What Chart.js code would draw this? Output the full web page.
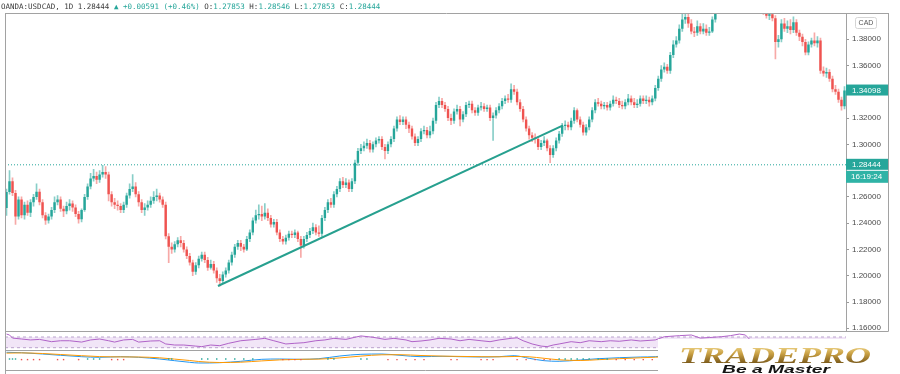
<!DOCTYPE html>
<html><head><meta charset="utf-8">
<script src="https://cdn.jsdelivr.net/npm/chart.js@4.4.0/dist/chart.umd.min.js"></script>
<style>html,body{margin:0;padding:0;background:#fff;}canvas{display:block}</style>
</head><body>
<canvas id="c" width="900" height="374"></canvas>
<script>
// ---- OHLC (daily USDCAD candles) ----
const opens = [
1.2516,1.2638,1.2720,1.2630,1.2450,1.2580,1.2460,1.2540,1.2480,1.2560,
1.2600,1.2640,1.2560,1.2460,1.2420,1.2450,1.2500,1.2560,1.2580,1.2510,
1.2490,1.2530,1.2550,1.2520,1.2470,1.2430,1.2500,1.2600,1.2680,1.2740,
1.2760,1.2730,1.2770,1.2790,1.2770,1.2620,1.2560,1.2540,1.2530,1.2500,
1.2540,1.2610,1.2660,1.2680,1.2620,1.2560,1.2500,1.2520,1.2540,1.2570,
1.2600,1.2610,1.2580,1.2540,1.2300,1.2220,1.2200,1.2240,1.2270,1.2250,
1.2200,1.2150,1.2100,1.2030,1.2080,1.2130,1.2160,1.2120,1.2060,1.2090,
1.2040,1.1980,1.1960,1.2010,1.2040,1.2100,1.2160,1.2220,1.2250,1.2220,
1.2200,1.2280,1.2330,1.2420,1.2460,1.2470,1.2450,1.2480,1.2440,1.2390,
1.2410,1.2330,1.2280,1.2260,1.2290,1.2320,1.2310,1.2330,1.2280,1.2230,
1.2280,1.2310,1.2340,1.2370,1.2330,1.2320,1.2440,1.2500,1.2560,1.2540,
1.2620,1.2660,1.2720,1.2690,1.2710,1.2660,1.2720,1.2860,1.2950,1.2970,
1.2990,1.3010,1.2960,1.3000,1.3030,1.3040,1.2980,1.2950,1.3000,1.3040,
1.3120,1.3190,1.3170,1.3190,1.3150,1.3120,1.3060,1.3010,1.3040,1.3100,
1.3110,1.3070,1.3100,1.3180,1.3300,1.3330,1.3300,1.3270,1.3200,1.3180,
1.3250,1.3270,1.3190,1.3230,1.3300,1.3310,1.3260,1.3240,1.3280,1.3290,
1.3270,1.3280,1.3200,1.3220,1.3260,1.3290,1.3330,1.3350,1.3340,1.3420,
1.3400,1.3320,1.3270,1.3190,1.3120,1.3070,1.3050,1.3040,1.2980,1.3010,
1.3030,1.2970,1.2920,1.2970,1.3030,1.3080,1.3140,1.3150,1.3130,1.3180,
1.3260,1.3190,1.3150,1.3090,1.3130,1.3190,1.3260,1.3320,1.3310,1.3290,
1.3300,1.3280,1.3310,1.3340,1.3330,1.3300,1.3290,1.3320,1.3350,1.3320,
1.3300,1.3310,1.3350,1.3330,1.3340,1.3320,1.3350,1.3430,1.3500,1.3570,
1.3590,1.3560,1.3680,1.3760,1.3790,1.3880,1.3950,1.3970,1.3920,1.3860,
1.3850,1.3900,1.3860,1.3880,1.3850,1.3860,1.3950,1.4030,1.4080,1.4130,
1.4190,1.4160,1.4230,1.4310,1.4380,1.4460,1.4520,1.4450,1.4400,1.4330,
1.4260,1.4180,1.4120,1.4010,1.3980,1.3990,1.3960,1.3780,1.3800,1.3920,
1.3880,1.3900,1.3870,1.3930,1.3850,1.3820,1.3780,1.3700,1.3760,1.3790,
1.3770,1.3790,1.3560,1.3540,1.3550,1.3500,1.3420,1.3400,1.3340,1.3290];
const highs = [
1.2660,1.2800,1.2745,1.2650,1.2600,1.2600,1.2560,1.2570,1.2580,1.2620,
1.2700,1.2660,1.2580,1.2480,1.2470,1.2520,1.2600,1.2610,1.2600,1.2530,
1.2560,1.2580,1.2570,1.2540,1.2490,1.2510,1.2620,1.2700,1.2780,1.2810,
1.2790,1.2800,1.2840,1.2830,1.2790,1.2640,1.2590,1.2570,1.2550,1.2560,
1.2630,1.2700,1.2770,1.2710,1.2640,1.2580,1.2550,1.2570,1.2600,1.2640,
1.2660,1.2630,1.2600,1.2560,1.2320,1.2250,1.2260,1.2290,1.2300,1.2270,
1.2220,1.2170,1.2120,1.2100,1.2150,1.2180,1.2180,1.2140,1.2120,1.2110,
1.2060,1.2010,1.2030,1.2060,1.2120,1.2180,1.2240,1.2270,1.2270,1.2240,
1.2300,1.2350,1.2440,1.2500,1.2540,1.2530,1.2550,1.2510,1.2460,1.2430,
1.2430,1.2350,1.2300,1.2310,1.2340,1.2340,1.2350,1.2340,1.2300,1.2300,
1.2330,1.2360,1.2400,1.2390,1.2380,1.2460,1.2520,1.2580,1.2590,1.2640,
1.2680,1.2740,1.2750,1.2740,1.2730,1.2740,1.2880,1.2970,1.3000,1.3020,
1.3040,1.3030,1.3020,1.3050,1.3060,1.3060,1.3000,1.3020,1.3060,1.3140,
1.3210,1.3220,1.3210,1.3210,1.3170,1.3140,1.3080,1.3060,1.3120,1.3140,
1.3130,1.3140,1.3200,1.3320,1.3360,1.3350,1.3320,1.3290,1.3230,1.3270,
1.3300,1.3290,1.3250,1.3320,1.3330,1.3330,1.3280,1.3300,1.3320,1.3310,
1.3300,1.3300,1.3240,1.3280,1.3310,1.3350,1.3370,1.3380,1.3460,1.3450,
1.3420,1.3340,1.3290,1.3210,1.3140,1.3090,1.3080,1.3060,1.3030,1.3060,
1.3040,1.2990,1.2990,1.3050,1.3100,1.3160,1.3180,1.3170,1.3200,1.3280,
1.3270,1.3210,1.3170,1.3150,1.3210,1.3280,1.3340,1.3350,1.3330,1.3320,
1.3320,1.3330,1.3370,1.3360,1.3350,1.3330,1.3340,1.3380,1.3370,1.3350,
1.3340,1.3370,1.3370,1.3370,1.3360,1.3370,1.3450,1.3520,1.3600,1.3620,
1.3610,1.3700,1.3790,1.3820,1.3910,1.4010,1.4030,1.4010,1.3950,1.3890,
1.3940,1.3920,1.3920,1.3910,1.3890,1.3970,1.4060,1.4100,1.4150,1.4210,
1.4220,1.4250,1.4330,1.4400,1.4480,1.4560,1.4540,1.4480,1.4420,1.4350,
1.4280,1.4200,1.4150,1.4050,1.4030,1.4020,1.3980,1.3830,1.3950,1.3960,
1.3940,1.3950,1.3970,1.3950,1.3870,1.3840,1.3800,1.3780,1.3810,1.3850,
1.3820,1.3810,1.3590,1.3580,1.3570,1.3520,1.3450,1.3420,1.3360,1.3440];
const lows = [
1.2460,1.2620,1.2610,1.2390,1.2430,1.2440,1.2430,1.2460,1.2450,1.2530,
1.2580,1.2540,1.2440,1.2390,1.2400,1.2430,1.2480,1.2540,1.2490,1.2450,
1.2470,1.2500,1.2490,1.2450,1.2400,1.2410,1.2490,1.2580,1.2660,1.2720,
1.2700,1.2710,1.2750,1.2740,1.2570,1.2530,1.2510,1.2500,1.2480,1.2480,
1.2520,1.2590,1.2640,1.2600,1.2530,1.2480,1.2460,1.2500,1.2520,1.2550,
1.2570,1.2560,1.2520,1.2280,1.2100,1.2170,1.2180,1.2220,1.2220,1.2180,
1.2130,1.2080,1.2000,1.2010,1.2060,1.2110,1.2100,1.2040,1.2050,1.2020,
1.1950,1.1920,1.1940,1.1990,1.2020,1.2080,1.2140,1.2200,1.2190,1.2180,
1.2190,1.2260,1.2310,1.2400,1.2430,1.2420,1.2430,1.2420,1.2370,1.2370,
1.2310,1.2260,1.2240,1.2240,1.2270,1.2290,1.2290,1.2260,1.2140,1.2210,
1.2260,1.2290,1.2320,1.2310,1.2300,1.2300,1.2420,1.2480,1.2520,1.2520,
1.2600,1.2640,1.2670,1.2670,1.2640,1.2640,1.2700,1.2840,1.2930,1.2950,
1.2970,1.2940,1.2940,1.2980,1.3010,1.2960,1.2890,1.2930,1.2980,1.3020,
1.3100,1.3150,1.3150,1.3120,1.3090,1.3040,1.2990,1.2990,1.3020,1.3080,
1.3050,1.3050,1.3080,1.3160,1.3280,1.3280,1.3250,1.3180,1.3150,1.3160,
1.3230,1.3140,1.3170,1.3210,1.3280,1.3240,1.3220,1.3220,1.3260,1.3250,
1.3250,1.3180,1.3030,1.3200,1.3240,1.3270,1.3310,1.3320,1.3320,1.3380,
1.3300,1.3250,1.3170,1.3100,1.3040,1.3020,1.3010,1.2960,1.2960,1.2990,
1.2950,1.2860,1.2900,1.2950,1.3010,1.3060,1.3110,1.3110,1.3110,1.3160,
1.3170,1.3130,1.3070,1.3070,1.3110,1.3170,1.3240,1.3290,1.3270,1.3270,
1.3260,1.3260,1.3290,1.3310,1.3280,1.3270,1.3270,1.3300,1.3300,1.3280,
1.3280,1.3290,1.3310,1.3310,1.3290,1.3300,1.3330,1.3410,1.3480,1.3550,
1.3540,1.3540,1.3660,1.3740,1.3770,1.3860,1.3920,1.3890,1.3840,1.3820,
1.3830,1.3840,1.3840,1.3830,1.3830,1.3850,1.3930,1.4010,1.4060,1.4110,
1.4130,1.4140,1.4210,1.4290,1.4360,1.4440,1.4420,1.4370,1.4300,1.4230,
1.4160,1.4090,1.3990,1.3960,1.3950,1.3940,1.3650,1.3740,1.3780,1.3860,
1.3850,1.3840,1.3850,1.3830,1.3790,1.3750,1.3680,1.3680,1.3740,1.3750,
1.3740,1.3540,1.3520,1.3510,1.3480,1.3400,1.3380,1.3320,1.3260,1.3270];
const closes = [
1.2638,1.2720,1.2630,1.2450,1.2580,1.2460,1.2540,1.2480,1.2560,1.2600,
1.2640,1.2560,1.2460,1.2420,1.2450,1.2500,1.2560,1.2580,1.2510,1.2490,
1.2530,1.2550,1.2520,1.2470,1.2430,1.2500,1.2600,1.2680,1.2740,1.2760,
1.2730,1.2770,1.2790,1.2770,1.2620,1.2560,1.2540,1.2530,1.2500,1.2540,
1.2610,1.2660,1.2680,1.2620,1.2560,1.2500,1.2520,1.2540,1.2570,1.2600,
1.2610,1.2580,1.2540,1.2300,1.2220,1.2200,1.2240,1.2270,1.2250,1.2200,
1.2150,1.2100,1.2030,1.2080,1.2130,1.2160,1.2120,1.2060,1.2090,1.2040,
1.1980,1.1960,1.2010,1.2040,1.2100,1.2160,1.2220,1.2250,1.2220,1.2200,
1.2280,1.2330,1.2420,1.2460,1.2470,1.2450,1.2480,1.2440,1.2390,1.2410,
1.2330,1.2280,1.2260,1.2290,1.2320,1.2310,1.2330,1.2280,1.2230,1.2280,
1.2310,1.2340,1.2370,1.2330,1.2320,1.2440,1.2500,1.2560,1.2540,1.2620,
1.2660,1.2720,1.2690,1.2710,1.2660,1.2720,1.2860,1.2950,1.2970,1.2990,
1.3010,1.2960,1.3000,1.3030,1.3040,1.2980,1.2950,1.3000,1.3040,1.3120,
1.3190,1.3170,1.3190,1.3150,1.3120,1.3060,1.3010,1.3040,1.3100,1.3110,
1.3070,1.3100,1.3180,1.3300,1.3330,1.3300,1.3270,1.3200,1.3180,1.3250,
1.3270,1.3190,1.3230,1.3300,1.3310,1.3260,1.3240,1.3280,1.3290,1.3270,
1.3280,1.3200,1.3220,1.3260,1.3290,1.3330,1.3350,1.3340,1.3420,1.3400,
1.3320,1.3270,1.3190,1.3120,1.3070,1.3050,1.3040,1.2980,1.3010,1.3030,
1.2970,1.2920,1.2970,1.3030,1.3080,1.3140,1.3150,1.3130,1.3180,1.3260,
1.3190,1.3150,1.3090,1.3130,1.3190,1.3260,1.3320,1.3310,1.3290,1.3300,
1.3280,1.3310,1.3340,1.3330,1.3300,1.3290,1.3320,1.3350,1.3320,1.3300,
1.3310,1.3350,1.3330,1.3340,1.3320,1.3350,1.3430,1.3500,1.3570,1.3590,
1.3560,1.3680,1.3760,1.3790,1.3880,1.3950,1.3970,1.3920,1.3860,1.3850,
1.3900,1.3860,1.3880,1.3850,1.3860,1.3950,1.4030,1.4080,1.4130,1.4190,
1.4160,1.4230,1.4310,1.4380,1.4460,1.4520,1.4450,1.4400,1.4330,1.4260,
1.4180,1.4120,1.4010,1.3980,1.3990,1.3960,1.3780,1.3800,1.3920,1.3880,
1.3900,1.3870,1.3930,1.3850,1.3820,1.3780,1.3700,1.3760,1.3790,1.3770,
1.3790,1.3560,1.3540,1.3550,1.3500,1.3420,1.3400,1.3340,1.3290,1.3410];

// ---- axis ticks & labels ----
const priceTicks = [1.16,1.18,1.20,1.22,1.24,1.26,1.30,1.32,1.36,1.38];
const priceTags = [1.34098, 1.28444];
const tagTexts = ['1.34098', '1.28444', '16:19:24'];
const currencyLabel = 'CAD';
const headerParts = [
  ['OANDA:USDCAD, 1D 1.28444 ', 'dark'], ['\u25B2 +0.00591 (+0.46%) ', 'teal'],
  ['O:', 'dark'], ['1.27853 ', 'teal'], ['H:', 'dark'], ['1.28546 ', 'teal'],
  ['L:', 'dark'], ['1.27853 ', 'teal'], ['C:', 'dark'], ['1.28444', 'teal']];
const logoTitle = 'TRADEPRO';
const logoTagline = 'Be a Master';

// ---- drawn trend line (candle index, price) ----
const trendX = [70.4, 185.3];
const trendY = [1.1922, 1.3144];

// ---- RSI (candle index, value) ----
const rsiBands = [70, 30];
const rsiIdx = [0,1,2,5,8,11,15,18,21,25,28,31,34,36,39,42,44,48,51,53,56,59,63,65,68,71,74,78,83,86,89,93,96,99,103,106,109,113,116,118,122,126,129,133,135,138,141,144,148,151,154,158,161,164,168,170,172,175,178,180,182,184,188,191,194,198,201,204,208,211,216,219,224,228,231,234,238,241,244,246,248,250];
const rsiVals = [81,77.5,66,62.5,59,61,52.5,56,56,51,59,62.5,56,51,59,61,51,55,56,44,40,40,36,34,40,37.5,46.5,56,61,65,56,44,46.5,48.7,56,59,65,61,69,74,69,61,65,59,52.5,55,59,65,62.5,56,61,56,52.5,59,65,67,56,44,36,34,40,44,52.5,48.7,56,52.5,56,54,59,55,59,71,75,77.5,66,68,71,75,81,77.5,55,45];

// ---- MACD (candle index, macd, signal) ----
const macdIdx = [0,5,12,18,25,31,38,44,51,56,61,64,71,78,85,91,98,104,111,118,125,131,138,145,151,158,164,169,174,179,184,191,197,204,211,216,221];
const macdVals = [0.0070,0.0066,0.0053,0.0040,0.0026,0.0020,0.0026,0.0020,0.0003,-0.0014,-0.0030,-0.0037,-0.0034,-0.0020,0.0000,0.0003,0.0000,0.0006,0.0033,0.0050,0.0053,0.0040,0.0026,0.0030,0.0026,0.0023,0.0026,0.0036,0.0010,-0.0014,-0.0020,-0.0007,0.0006,0.0016,0.0023,0.0026,0.0045];
const signalVals = [0.0062,0.0064,0.0058,0.0048,0.0036,0.0027,0.0024,0.0023,0.0015,0.0002,-0.0012,-0.0022,-0.0032,-0.0029,-0.0016,-0.0006,0.0000,0.0002,0.0014,0.0032,0.0045,0.0046,0.0038,0.0032,0.0029,0.0026,0.0025,0.0028,0.0025,0.0010,-0.0005,-0.0012,-0.0004,0.0006,0.0015,0.0021,0.0028];
const histIdx = [1,2,3,5,7,9,11,17,19,24,27,29,31,35,37,39,54,55,65,67,70,73,76,79,82,92,94,96,98,107,109,118,120,127,130,133,136,139,148,150,158,160,162,170,173,176,179,181,184,186,188,190,192,194,197,200,203,206,209,212,215];
const histVals = [
 0.0003,0.0003,0.0003,
 -0.0003,-0.0003,-0.0003,-0.0003,-0.0003,-0.0003,-0.0003,
 0.0003,0.0003,0.0003,
 -0.0003,-0.0003,-0.0003,
 0.0003,0.0003,0.0003,0.0003,0.0003,0.0003,0.0003,0.0003,0.0003,
 -0.0003,-0.0003,-0.0003,-0.0003,
 0.0003,0.0003,0.0003,0.0003,
 -0.0003,-0.0003,-0.0003,-0.0003,-0.0003,-0.0003,-0.0003,-0.0003,-0.0003,-0.0003,-0.0003,-0.0003,-0.0003,-0.0003,-0.0003,
 0.0003,0.0003,0.0003,0.0003,0.0003,0.0003,0.0003,0.0003,
 -0.0003,-0.0003,-0.0003,-0.0003,-0.0003];

const UP = '#26a69a', DOWN = '#ef5350';
const N = closes.length;
const categories = closes.map((_, i) => String(i));
const isUp = i => i !== undefined && closes[i] >= opens[i];
const pts = (xs, ys) => xs.map((x, i) => ({x, y: ys[i]}));
const span = v => [{x: -0.5, y: v}, {x: N - 0.5, y: v}];
const fixW = s => { s.width = 42; s.paddingTop = 0; s.paddingBottom = 0; };

Chart.defaults.font.family = '"Liberation Sans", Arial, sans-serif';

const decor = {
  id: 'decor',
  afterDraw(chart) {
    const c = chart.ctx, a = chart.chartArea;
    const sy = chart.scales.y, sr = chart.scales.yr, sm = chart.scales.ym;
    const axR = sy.right;
    c.save();
    // frame lines
    c.strokeStyle = '#a2a2a2'; c.lineWidth = 1;
    const hl = (x1, x2, y) => { c.beginPath(); c.moveTo(x1, Math.round(y) + 0.5); c.lineTo(x2, Math.round(y) + 0.5); c.stroke(); };
    const vl = (x, y1, y2) => { c.beginPath(); c.moveTo(Math.round(x) + 0.5, y1); c.lineTo(Math.round(x) + 0.5, y2); c.stroke(); };
    hl(a.left, axR, a.top);
    vl(a.left, a.top, 374);
    vl(a.right, a.top, sy.bottom);
    vl(axR, a.top, sy.bottom);
    hl(a.left, axR, sy.bottom - 0.5);
    hl(a.left, a.right, sr.bottom);
    hl(a.left, a.right, sm.bottom);

    // currency box
    c.strokeStyle = '#d4d4d4';
    c.beginPath(); c.roundRect(855.5, 17.5, 21, 11, 2); c.stroke();
    c.fillStyle = '#555'; c.font = '7px "Liberation Sans"'; c.textAlign = 'center'; c.textBaseline = 'middle';
    c.fillText(currencyLabel, 866, 23.3);

    // price tags
    c.textAlign = 'left';
    c.font = '8px "Liberation Sans"';
    const y1 = sy.getPixelForValue(priceTags[0]);
    c.fillStyle = UP; c.fillRect(a.right, y1 - 6, axR - a.right, 11);
    c.fillStyle = '#fff'; c.fillText(tagTexts[0], a.right + 6, y1);
    const y2 = sy.getPixelForValue(priceTags[1]);
    c.fillStyle = UP; c.fillRect(a.right, y2 - 6, axR - a.right, 11);
    c.fillStyle = '#2fb3a6'; c.fillRect(a.right, y2 + 6, axR - a.right, 12);
    c.fillStyle = '#fff'; c.fillText(tagTexts[1], a.right + 6, y2 - 0.5); c.fillText(tagTexts[2], a.right + 5, y2 + 12);

    // header legend
    c.font = '7.5px "DejaVu Sans Mono"'; c.textBaseline = 'alphabetic';
    let x = 1;
    for (const [t, k] of headerParts) {
      c.fillStyle = k === 'teal' ? UP : '#3c3c3c';
      c.fillText(t, x, 8.5);
      x += c.measureText(t).width;
    }

    // logo
    c.fillStyle = '#fff'; c.fillRect(658, 339, 242, 35);
    c.font = 'italic bold 24px "Liberation Serif"';
    const w = c.measureText(logoTitle).width;
    c.save(); c.translate(679, 363); c.scale(192 / w, 1);
    const g = c.createLinearGradient(0, -17, 0, 0);
    g.addColorStop(0, '#f0d68a'); g.addColorStop(0.45, '#c9a043'); g.addColorStop(1, '#7d5c1c');
    c.fillStyle = g; c.fillText(logoTitle, 0, 0); c.restore();
    c.font = 'italic bold 10px "Liberation Sans"';
    const w2 = c.measureText(logoTagline).width;
    c.save(); c.translate(722, 372.5); c.scale(108 / w2, 1);
    c.fillStyle = '#151515'; c.fillText(logoTagline, 0, 0); c.restore();
    c.restore();
  }
};

new Chart(document.getElementById('c'), {
  data: {
    labels: categories,
    datasets: [
      { type: 'bar', label: 'wicks', data: lows.map((l, i) => [l, highs[i]]), xAxisID: 'x', yAxisID: 'y',
        backgroundColor: ctx => isUp(ctx.dataIndex) ? 'rgba(38,166,154,0.55)' : 'rgba(239,83,80,0.5)',
        barThickness: 1, grouped: false, borderWidth: 0, clip: 0, order: 10 },
      { type: 'bar', label: 'bodies', data: opens.map((o, i) => [o, closes[i]]), xAxisID: 'x', yAxisID: 'y',
        backgroundColor: ctx => isUp(ctx.dataIndex) ? UP : DOWN,
        barPercentage: 0.8, categoryPercentage: 1, grouped: false, minBarLength: 1, borderWidth: 0, clip: 0, order: 9 },
      { type: 'line', label: 'last', data: span(priceTags[1]), xAxisID: 'xl', yAxisID: 'y',
        borderColor: UP, borderWidth: 1, borderDash: [1, 2], pointRadius: 0, order: 8 },
      { type: 'line', label: 'trend', data: pts(trendX, trendY), xAxisID: 'xl', yAxisID: 'y',
        borderColor: '#27a08f', borderWidth: 2, pointRadius: 0, order: 1 },
      { type: 'line', label: 'rsi70', data: span(rsiBands[0]), xAxisID: 'xl', yAxisID: 'yr',
        borderColor: 'rgba(160,130,185,0.7)', borderWidth: 1, borderDash: [3, 3], pointRadius: 0,
        fill: {value: rsiBands[1]}, backgroundColor: '#f1e5f7', order: 7 },
      { type: 'line', label: 'rsi30', data: span(rsiBands[1]), xAxisID: 'xl', yAxisID: 'yr',
        borderColor: 'rgba(160,130,185,0.7)', borderWidth: 1, borderDash: [3, 3], pointRadius: 0, order: 6 },
      { type: 'line', label: 'RSI', data: pts(rsiIdx, rsiVals), xAxisID: 'xl', yAxisID: 'yr',
        borderColor: '#b063c8', borderWidth: 1, pointRadius: 0, order: 5 },
      { type: 'line', label: 'MACD', data: pts(macdIdx, macdVals), xAxisID: 'xl', yAxisID: 'ym',
        borderColor: '#2196f3', borderWidth: 1, pointRadius: 0, cubicInterpolationMode: 'monotone', order: 4 },
      { type: 'line', label: 'Signal', data: pts(macdIdx, signalVals), xAxisID: 'xl', yAxisID: 'ym',
        borderColor: '#ff9800', borderWidth: 1, pointRadius: 0, cubicInterpolationMode: 'monotone', order: 3 },
      { type: 'line', label: 'Hist', data: pts(histIdx, histVals), xAxisID: 'xl', yAxisID: 'ym', showLine: false,
        pointStyle: 'rect', pointRadius: 1, pointBorderWidth: 0,
        pointBackgroundColor: ctx => (ctx.raw && ctx.raw.y >= 0) ? UP : DOWN, order: 2 }
    ]
  },
  options: {
    responsive: false, animation: false, devicePixelRatio: 1,
    layout: { padding: { left: 5, right: 12, top: 13, bottom: 4 } },
    plugins: { legend: { display: false }, tooltip: { enabled: false } },
    scales: {
      x: { type: 'category', offset: true, display: false },
      xl: { type: 'linear', min: -0.5, max: N - 0.5, display: false },
      y: { type: 'linear', position: 'right', stack: 'panes', stackWeight: 318.7, min: 1.1574, max: 1.40,
        afterFit: fixW,
        afterBuildTicks: s => { s.ticks = priceTicks.map(v => ({ value: v })); },
        ticks: { font: { size: 8 }, color: '#4a4a4a', padding: 3, callback: v => Number(v).toFixed(5) },
        grid: { drawOnChartArea: false, drawTicks: true, tickLength: 3, color: '#9a9a9a' },
        border: { display: false } },
      yr: { type: 'linear', position: 'right', stack: 'panes', stackWeight: 18.3, min: 21.4, max: 89.8,
        afterFit: fixW, ticks: { display: false }, grid: { display: false }, border: { display: false } },
      ym: { type: 'linear', position: 'right', stack: 'panes', stackWeight: 20, min: -0.0107, max: 0.0093,
        afterFit: fixW, ticks: { display: false }, grid: { display: false }, border: { display: false } }
    }
  },
  plugins: [decor]
});
</script>
</body></html>
